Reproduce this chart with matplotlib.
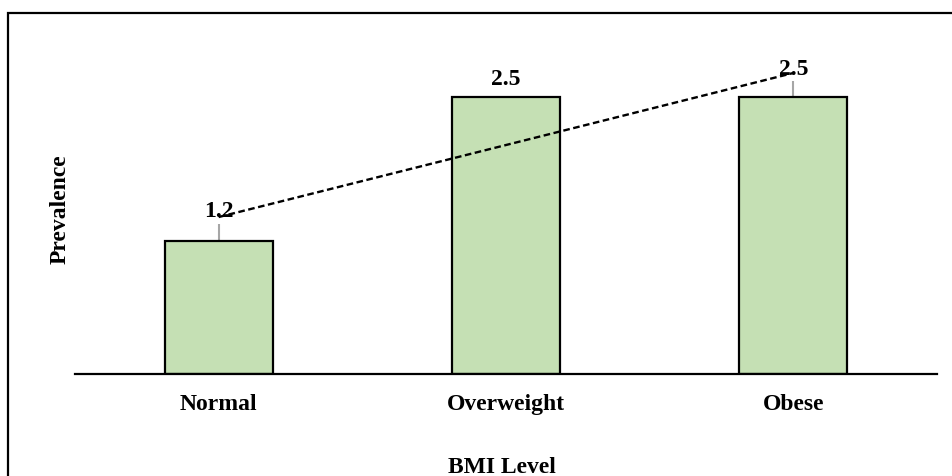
import numpy as np
import matplotlib
matplotlib.use("Agg")
import matplotlib.pyplot as plt
from matplotlib.patches import Rectangle

categories = ["Normal", "Overweight", "Obese"]
values = [1.2, 2.5, 2.5]
value_labels = ["1.2", "2.5", "2.5"]
x_label = "BMI Level"
y_label = "Prevalence"

# label offsets above bar top (data units) and whether a leader line is drawn
label_offsets = [0.28, 0.165, 0.26]
leader_lengths = [0.155, 0.0, 0.145]

plt.rcParams['font.family'] = ['Liberation Serif', 'DejaVu Serif']
plt.rcParams['font.weight'] = 'bold'

W, H = 952, 477
fig = plt.figure(figsize=(W / 100, H / 100), dpi=100)
ax = fig.add_axes([75 / W, 102 / H, 862 / W, 345 / H])

x = np.arange(len(categories))
ax.bar(x, values, width=0.375, color="#C5E0B4", edgecolor="black", linewidth=1.6, zorder=2)

# trendline (linear fit)
coef = np.polyfit(x, values, 1)
xt = np.array([x[0], x[-1]])
ax.plot(xt, np.polyval(coef, xt), color="black", lw=1.7, linestyle=(0, (2.8, 1.5)), zorder=4)

for xi, v, lab, off, ll in zip(x, values, value_labels, label_offsets, leader_lengths):
    if ll > 0:
        ax.plot([xi, xi], [v, v + ll], color="#A6A6A6", lw=1.5, zorder=1.5, solid_capstyle='butt')
    ax.text(xi, v + off, lab, ha="center", va="center", fontsize=17, fontweight="bold", zorder=3)

ax.set_xlim(-0.5, 2.5)
ax.set_ylim(0, 345 / 110.8)
ax.set_xticks(x)
ax.set_xticklabels(categories, fontsize=17, fontweight="bold")
ax.tick_params(axis="x", length=0, pad=14)
ax.set_yticks([])
for s in ["top", "right", "left"]:
    ax.spines[s].set_visible(False)
ax.spines["bottom"].set_linewidth(1.6)
ax.spines["bottom"].set_color("black")

fig.text(502 / W, 1 - 468 / H, x_label, ha="center", va="center", fontsize=17, fontweight="bold")
fig.text(60 / W, 1 - 209 / H, y_label, ha="center", va="center", rotation=90, fontsize=17, fontweight="bold")

frame = Rectangle((8 / W, -0.1), 1.2, 1 - 14 / H + 0.1, transform=fig.transFigure,
                  fill=False, edgecolor="black", linewidth=1.6, clip_on=False)
fig.add_artist(frame)

fig.savefig("out.png", dpi=100)
